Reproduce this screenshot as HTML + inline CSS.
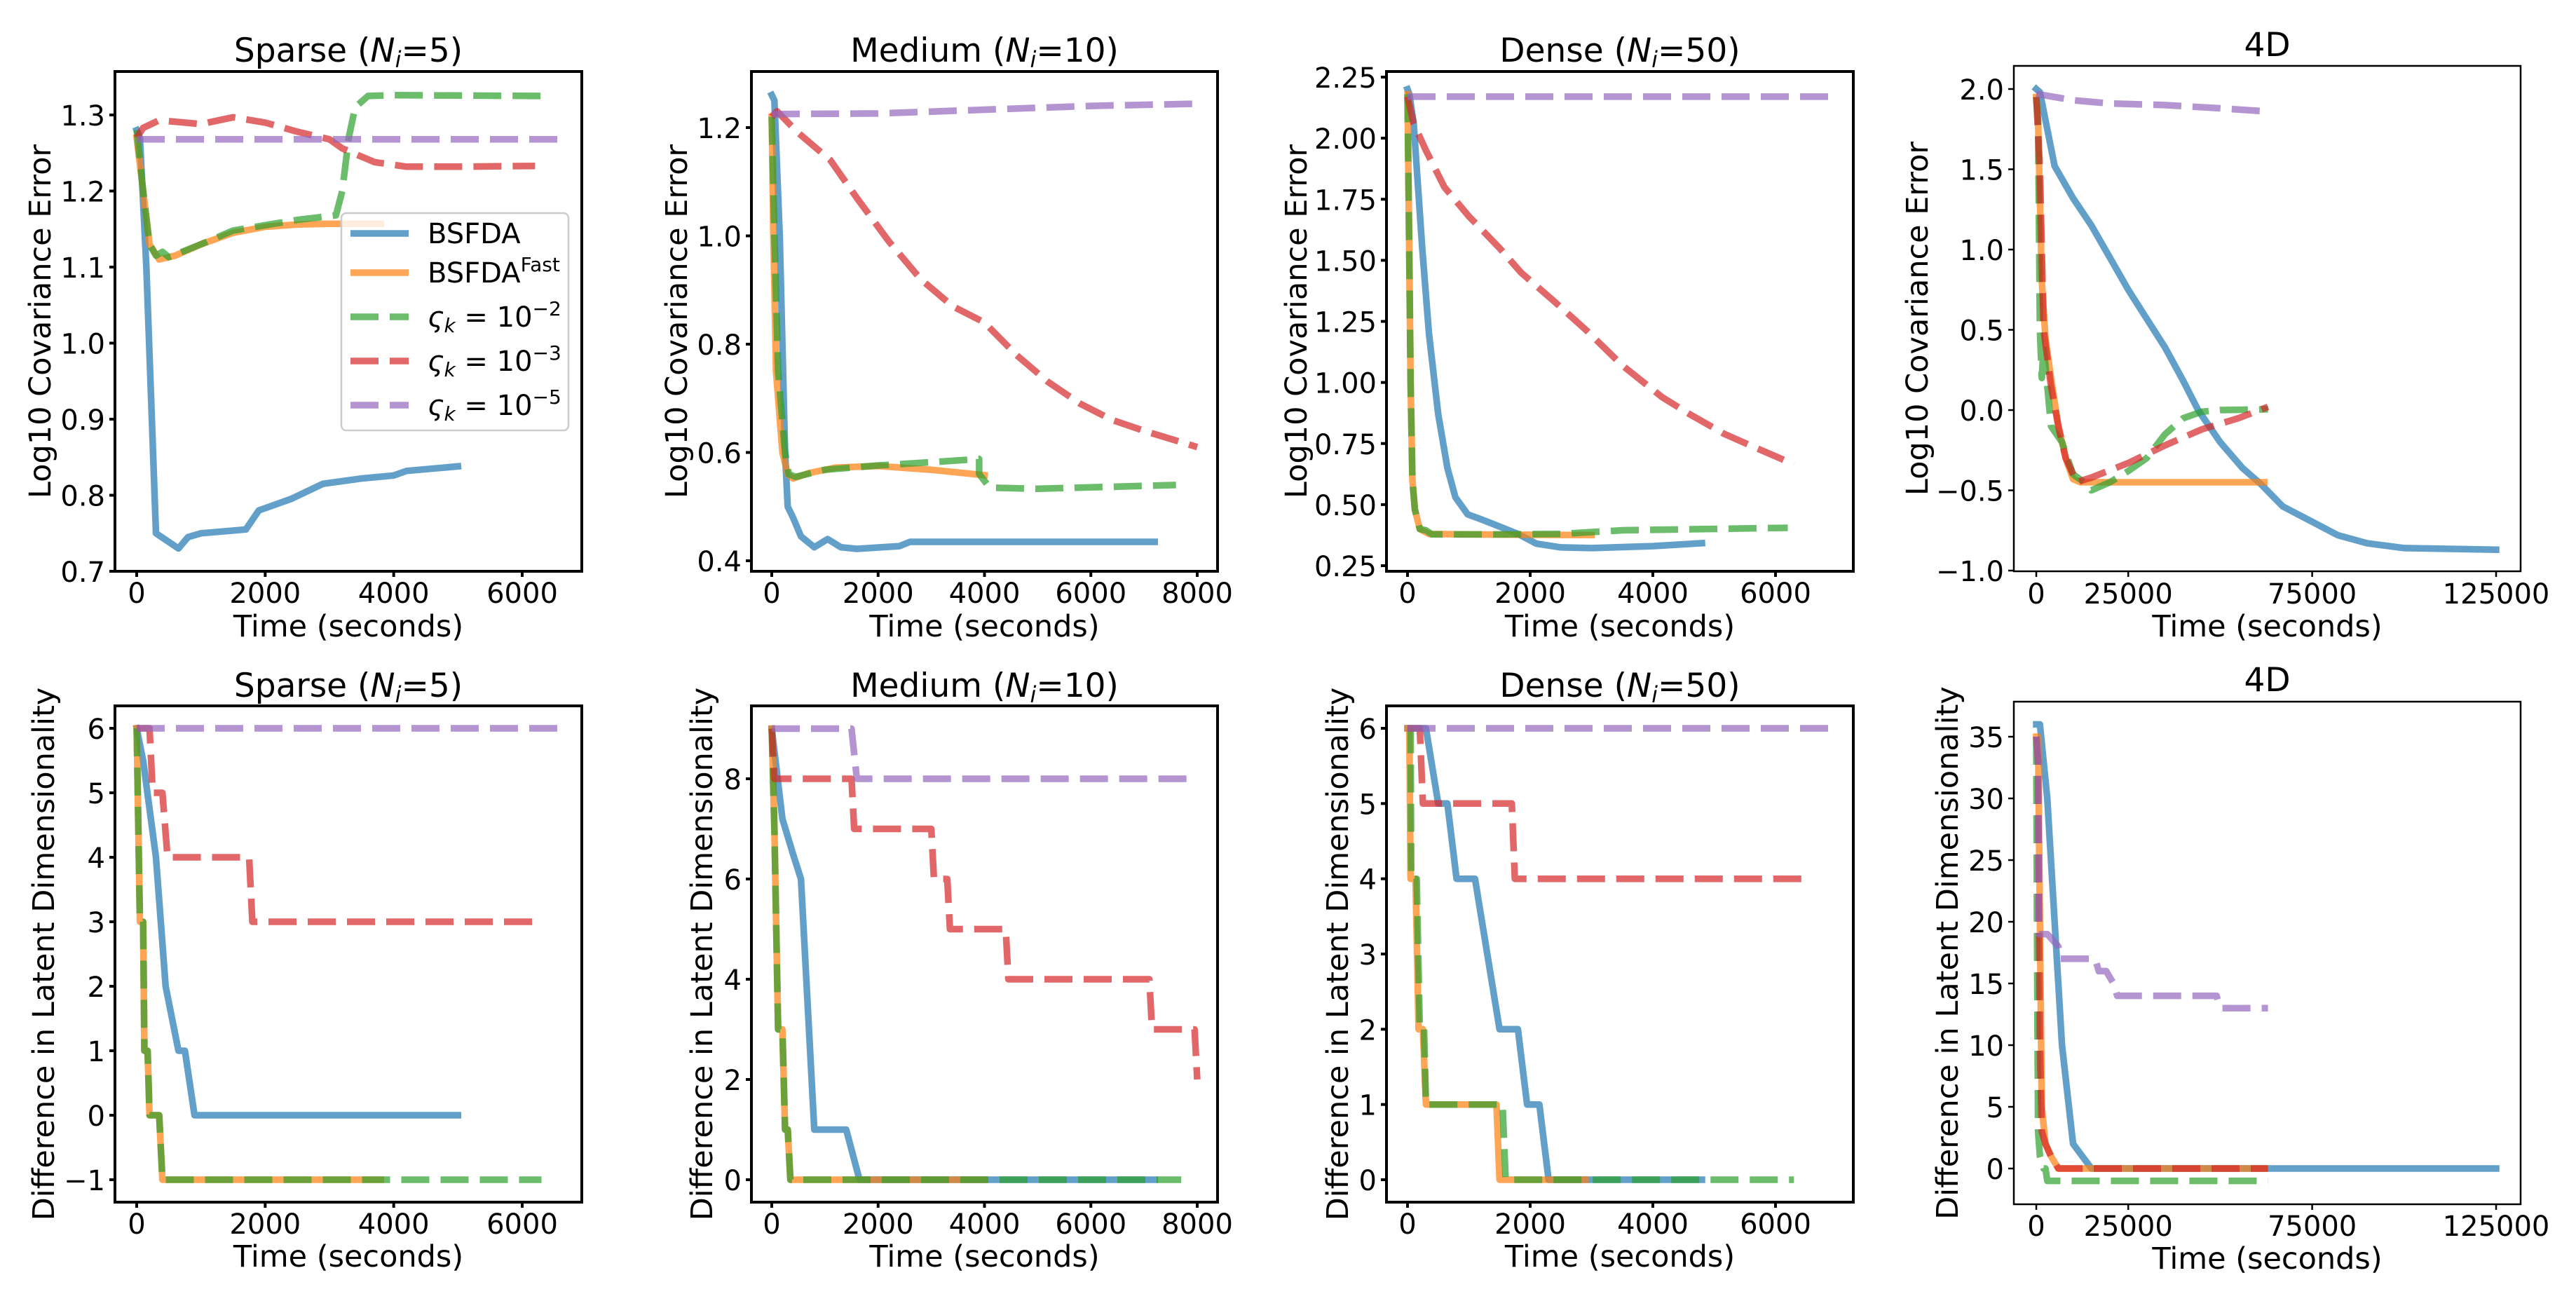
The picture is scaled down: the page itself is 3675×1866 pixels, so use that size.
<!DOCTYPE html>
<html><head><meta charset="utf-8"><style>
html,body{margin:0;padding:0;background:#fff;}
svg{display:block;font-family:"DejaVu Sans","Liberation Sans",sans-serif;}
</style></head><body>
<svg id="fig" width="3675" height="1866" viewBox="0 0 3675 1866" xmlns="http://www.w3.org/2000/svg">
<rect width="3675" height="1866" fill="#fff"/>
</svg>
<script>
// ---------- data ----------
const seriesNames = ["BSFDA","BSFDA Fast","zeta 1e-2","zeta 1e-3","zeta 1e-5"];
const sparseTopBlue=[[0,1.28],[50,1.27],[150,1.1],[300,0.75],[650,0.73],[800,0.745],[1000,0.75],[1700,0.755],[1900,0.78],[2400,0.795],[2900,0.815],[3500,0.822],[4000,0.826],[4200,0.832],[5000,0.838]];
const sparseTopOrange=[[0,1.27],[100,1.2],[200,1.13],[350,1.11],[600,1.115],[1000,1.13],[1500,1.145],[2000,1.153],[2500,1.156],[3000,1.157],[3800,1.157]];
const sparseTopGreen=[[0,1.28],[100,1.2],[200,1.13],[300,1.115],[400,1.12],[500,1.113],[1000,1.13],[1500,1.148],[2000,1.155],[2500,1.162],[3100,1.168],[3200,1.2],[3300,1.27],[3400,1.31],[3600,1.325],[4000,1.326],[6300,1.325]];
const sparseTopRed=[[0,1.27],[100,1.283],[350,1.293],[1000,1.288],[1500,1.297],[2000,1.29],[2500,1.278],[3000,1.268],[3200,1.256],[3700,1.238],[4200,1.232],[5000,1.232],[6200,1.233]];
const sparseTopPurple=[[0,1.268],[6600,1.268]];

const mediumTopBlue=[[0,1.26],[50,1.25],[150,1.0],[250,0.6],[300,0.5],[400,0.48],[550,0.445],[800,0.425],[1050,0.44],[1300,0.425],[1600,0.422],[2400,0.427],[2600,0.435],[7200,0.435]];
const mediumTopOrange=[[0,1.22],[30,1.0],[80,0.75],[200,0.6],[300,0.56],[400,0.552],[700,0.562],[1200,0.572],[2000,0.575],[3000,0.568],[4000,0.558]];
const mediumTopGreen=[[0,1.22],[50,1.0],[120,0.75],[250,0.6],[320,0.56],[450,0.555],[1000,0.568],[2000,0.576],[3000,0.582],[3900,0.588],[3900,0.56],[4100,0.535],[5000,0.533],[7600,0.54]];
const mediumTopRed=[[0,1.22],[100,1.23],[500,1.19],[1100,1.14],[1600,1.07],[2200,0.99],[2800,0.92],[3400,0.87],[4000,0.84],[4600,0.78],[5200,0.73],[5800,0.69],[6400,0.66],[7000,0.64],[7500,0.625],[8000,0.61]];
const mediumTopPurple=[[0,1.225],[2000,1.226],[4000,1.233],[6000,1.24],[8000,1.244]];

const denseTopBlue=[[0,2.2],[30,2.18],[100,2.06],[240,1.55],[350,1.2],[500,0.87],[650,0.65],[780,0.53],[980,0.46],[1200,0.44],[1500,0.41],[1800,0.38],[2100,0.34],[2500,0.325],[3000,0.322],[4000,0.33],[4800,0.342]];
const denseTopOrange=[[0,2.18],[30,1.5],[50,1.0],[80,0.6],[120,0.48],[200,0.4],[350,0.38],[1000,0.378],[3000,0.375]];
const denseTopGreen=[[0,2.18],[30,1.5],[50,1.0],[80,0.6],[120,0.48],[200,0.4],[300,0.395],[400,0.378],[1500,0.378],[2500,0.38],[3500,0.395],[6200,0.405]];
const denseTopRed=[[0,2.17],[100,2.06],[300,1.95],[600,1.8],[1000,1.68],[1500,1.55],[1850,1.45],[2400,1.33],[2930,1.21],[3500,1.07],[4150,0.94],[4600,0.87],[5160,0.79],[5700,0.73],[6300,0.665]];
const denseTopPurple=[[0,2.17],[7000,2.17]];

const fourDTopBlue=[[0,2.0],[1000,1.98],[5000,1.52],[10000,1.32],[15000,1.15],[20000,0.95],[25000,0.75],[30000,0.57],[35000,0.39],[40000,0.18],[44000,0.0],[50000,-0.2],[56000,-0.36],[61000,-0.46],[67000,-0.6],[74500,-0.69],[82000,-0.78],[90000,-0.83],[100000,-0.86],[125000,-0.87]];
const fourDTopOrange=[[0,1.95],[500,1.8],[1500,0.8],[2500,0.45],[4000,0.2],[6000,-0.1],[8000,-0.3],[10000,-0.43],[12000,-0.45],[62000,-0.45]];
const fourDTopGreen=[[0,1.95],[500,1.8],[1000,0.5],[1500,0.2],[2000,0.4],[4000,-0.1],[7000,-0.2],[10000,-0.4],[13000,-0.45],[15000,-0.5],[20000,-0.45],[25000,-0.38],[30000,-0.3],[35000,-0.15],[40000,-0.05],[45000,-0.01],[50000,0.0],[63000,0.005]];
const fourDTopRed=[[0,1.95],[1000,1.5],[2000,0.5],[4000,0.15],[6000,-0.1],[8000,-0.3],[11000,-0.45],[15000,-0.42],[25000,-0.33],[35000,-0.22],[45000,-0.12],[55000,-0.05],[63000,0.02]];
const fourDTopPurple=[[0,1.97],[10000,1.93],[20000,1.91],[35000,1.9],[50000,1.88],[63000,1.86]];

const sparseBotBlue=[[0,6],[100,5.5],[300,4],[450,2],[650,1],[750,1],[900,0],[5000,0]];
const sparseBotOrange=[[0,6],[50,3],[100,3],[120,1],[170,1],[200,0],[350,0],[400,-1],[3800,-1]];
const sparseBotGreen=[[0,6],[50,3],[100,3],[120,1],[170,1],[200,0],[350,0],[400,-1],[6300,-1]];
const sparseBotRed=[[0,6],[200,6],[250,5],[400,5],[480,4],[1750,4],[1800,3],[6200,3]];
const sparseBotPurple=[[0,6],[6600,6]];

const mediumBotBlue=[[0,9],[200,7.2],[400,6.5],[550,6],[800,1],[1400,1],[1650,0],[7200,0]];
const mediumBotOrange=[[0,9],[50,7],[120,3],[200,3],[250,1],[300,1],[350,0],[4000,0]];
const mediumBotGreen=[[0,9],[50,7],[120,3],[200,3],[250,1],[300,1],[350,0],[7700,0]];
const mediumBotRed=[[0,9],[50,8],[1500,8],[1550,7],[3000,7],[3050,6],[3300,6],[3350,5],[4400,5],[4450,4],[7100,4],[7150,3],[7950,3],[8000,2]];
const mediumBotPurple=[[0,9],[1500,9],[1600,8],[7800,8]];

const denseBotBlue=[[0,6],[300,6],[500,5],[650,5],[800,4],[1100,4],[1300,3],[1500,2],[1800,2],[1950,1],[2150,1],[2300,0],[4800,0]];
const denseBotOrange=[[0,6],[30,6],[50,4],[130,4],[180,2],[250,2],[300,1],[1450,1],[1500,0],[2900,0]];
const denseBotGreen=[[0,6],[50,6],[60,4],[150,4],[200,2],[270,2],[300,1],[1550,1],[1600,0],[6300,0]];
const denseBotRed=[[0,6],[200,6],[250,5],[1700,5],[1750,4],[6500,4]];
const denseBotPurple=[[0,6],[7000,6]];

const fourDBotBlue=[[0,36],[1000,36],[3000,30],[5000,20],[7000,10],[10000,2],[15000,0],[125000,0]];
const fourDBotOrange=[[0,35],[500,35],[1000,20],[1500,5],[2500,2],[4000,1],[6000,0],[62000,0]];
const fourDBotGreen=[[0,35],[200,20],[500,3],[1000,1],[2000,0],[2500,0],[3000,-1],[63000,-1]];
const fourDBotRed=[[0,35],[500,33],[1000,10],[1500,3],[2500,2],[4000,1],[6000,0],[63000,0]];
const fourDBotPurple=[[0,35],[500,33],[700,19],[3000,19],[6000,18],[6500,17],[16000,17],[17000,16],[19000,16],[21000,15],[22000,14],[49000,14],[50000,13],[63000,13]];

const xTicks6000=[0,2000,4000,6000];
const xTicks8000=[0,2000,4000,6000,8000];
const xTicks4D=[0,25000,75000,125000];
const yTicksSparseTop=[0.7,0.8,0.9,1.0,1.1,1.2,1.3];
const yTicksMediumTop=[0.4,0.6,0.8,1.0,1.2];
const yTicksDenseTop=[0.25,0.5,0.75,1.0,1.25,1.5,1.75,2.0,2.25];
const yTicks4DTop=[-1.0,-0.5,0.0,0.5,1.0,1.5,2.0];
const yTicksSparseBot=[-1,0,1,2,3,4,5,6];
const yTicksMediumBot=[0,2,4,6,8];
const yTicksDenseBot=[0,1,2,3,4,5,6];
const yTicks4DBot=[0,5,10,15,20,25,30,35];

// ---------- drawing ----------
const NS="http://www.w3.org/2000/svg";
const svg=document.getElementById('fig');
const colors=["#1f77b4","#ff7f0e","#2ca02c","#d62728","#9467bd"];
const dashed=[false,false,true,true,true];
function mk(tag,attrs,parent){const e=document.createElementNS(NS,tag);for(const k in attrs)e.setAttribute(k,attrs[k]);(parent||svg).appendChild(e);return e;}

const panels=[
 {name:"sparse-top",box:[164,830,102,815],xr:[0,195,6000,745],yr:[0.7,815,1.3,164],xt:xTicks6000,yt:yTicksSparseTop,dec:1,title:["Sparse (","5)"],titleY:88,tickY:860,labY:908,ylab:"Log10 Covariance Error",ylabX:72,series:[sparseTopBlue,sparseTopOrange,sparseTopGreen,sparseTopRed,sparseTopPurple],sw:4},
 {name:"medium-top",box:[1072,1737,102,815],xr:[0,1101,8000,1708],yr:[0.4,800,1.2,182],xt:xTicks8000,yt:yTicksMediumTop,dec:1,title:["Medium (","10)"],titleY:88,tickY:860,labY:908,ylab:"Log10 Covariance Error",ylabX:980,series:[mediumTopBlue,mediumTopOrange,mediumTopGreen,mediumTopRed,mediumTopPurple],sw:4},
 {name:"dense-top",box:[1978,2644,102,815],xr:[0,2008,6000,2533],yr:[0.25,807,2.25,110],xt:xTicks6000,yt:yTicksDenseTop,dec:2,title:["Dense (","50)"],titleY:88,tickY:860,labY:908,ylab:"Log10 Covariance Error",ylabX:1864,series:[denseTopBlue,denseTopOrange,denseTopGreen,denseTopRed,denseTopPurple],sw:4},
 {name:"4d-top",box:[2873,3596,94,815],xr:[0,2905,125000,3561],yr:[-1.0,814,2.0,127],xt:xTicks4D,yt:yTicks4DTop,dec:1,title:null,titleY:80,tickY:861,labY:908,ylab:"Log10 Covariance Error",ylabX:2750,series:[fourDTopBlue,fourDTopOrange,fourDTopGreen,fourDTopRed,fourDTopPurple],sw:2.5},
 {name:"sparse-bottom",box:[164,830,1007,1715],xr:[0,195,6000,745],yr:[-1,1683,6,1039],xt:xTicks6000,yt:yTicksSparseBot,dec:0,title:["Sparse (","5)"],titleY:994,tickY:1760,labY:1807,ylab:"Difference in Latent Dimensionality",ylabX:77,series:[sparseBotBlue,sparseBotOrange,sparseBotGreen,sparseBotRed,sparseBotPurple],sw:4},
 {name:"medium-bottom",box:[1072,1737,1007,1715],xr:[0,1101,8000,1708],yr:[0,1683,8,1111],xt:xTicks8000,yt:yTicksMediumBot,dec:0,title:["Medium (","10)"],titleY:994,tickY:1760,labY:1807,ylab:"Difference in Latent Dimensionality",ylabX:1016,series:[mediumBotBlue,mediumBotOrange,mediumBotGreen,mediumBotRed,mediumBotPurple],sw:4},
 {name:"dense-bottom",box:[1978,2644,1007,1715],xr:[0,2008,6000,2533],yr:[0,1683,6,1039],xt:xTicks6000,yt:yTicksDenseBot,dec:0,title:["Dense (","50)"],titleY:994,tickY:1760,labY:1807,ylab:"Difference in Latent Dimensionality",ylabX:1923,series:[denseBotBlue,denseBotOrange,denseBotGreen,denseBotRed,denseBotPurple],sw:4},
 {name:"4d-bottom",box:[2873,3596,1001,1718],xr:[0,2905,125000,3561],yr:[0,1667,35,1051],xt:xTicks4D,yt:yTicks4DBot,dec:0,title:null,titleY:986,tickY:1763,labY:1810,ylab:"Difference in Latent Dimensionality",ylabX:2793,series:[fourDBotBlue,fourDBotOrange,fourDBotGreen,fourDBotRed,fourDBotPurple],sw:2.5}
];

function fmt(v,dec){let s=v.toFixed(dec);return s.replace('-','\u2212');}

panels.forEach((p,pi)=>{
  const g=mk('g',{});
  
  
  const [l,r,t,b]=p.box;
  const X=v=>p.xr[1]+(v-p.xr[0])*(p.xr[3]-p.xr[1])/(p.xr[2]-p.xr[0]);
  const Y=v=>p.yr[1]+(v-p.yr[0])*(p.yr[3]-p.yr[1])/(p.yr[2]-p.yr[0]);
  const cid='clip'+pi;
  const cp=mk('clipPath',{id:cid},g);mk('rect',{x:l,y:t,width:r-l,height:b-t},cp);
  const lg=mk('g',{'clip-path':'url(#'+cid+')'},g);
  p.series.forEach((s,si)=>{
    const d=s.map((pt,i)=>(i?'L':'M')+X(pt[0]).toFixed(1)+','+Y(pt[1]).toFixed(1)).join(' ');
    const path=mk('path',{d:d,fill:'none',stroke:colors[si],'stroke-opacity':0.7,'stroke-width':9.5,'stroke-linejoin':'round','stroke-linecap':dashed[si]?'butt':'square'},lg);
    if(dashed[si])path.setAttribute('stroke-dasharray','40 16');
    
    
  });
  const frame=mk('rect',{x:l,y:t,width:r-l,height:b-t,fill:'none',stroke:'#000','stroke-width':p.sw},g);
  
  
  p.xt.forEach(v=>{
    const x=X(v);
    mk('line',{x1:x,x2:x,y1:b,y2:b+8,stroke:'#000','stroke-width':p.sw},g);
    const tx=mk('text',{x:x,y:p.tickY,'font-size':40,'text-anchor':'middle'},g);
    tx.textContent=String(v);
    
    
  });
  p.yt.forEach(v=>{
    const y=Y(v);
    mk('line',{x1:l-8,x2:l,y1:y,y2:y,stroke:'#000','stroke-width':p.sw},g);
    const tx=mk('text',{x:l-14,y:y+15,'font-size':40,'text-anchor':'end'},g);
    tx.textContent=fmt(v,p.dec);
    
    
  });
  const xl=mk('text',{x:(l+r)/2,y:p.labY,'font-size':43,'text-anchor':'middle'},g);
  xl.textContent='Time (seconds)';
  
  
  const cy=(t+b)/2;
  const yl=mk('text',{x:p.ylabX,y:cy,'font-size':43,'text-anchor':'middle',transform:'rotate(-90 '+p.ylabX+' '+cy+')'},g);
  yl.textContent=p.ylab;
  
  
  const tt=mk('text',{x:(l+r)/2,y:p.titleY,'font-size':47,'text-anchor':'middle'},g);
  
  
  if(p.title){
    tt.appendChild(document.createTextNode(p.title[0]));
    const n=mk('tspan',{'font-style':'italic'},tt);n.textContent='N';
    const i=mk('tspan',{'font-style':'italic','font-size':32,dy:8},tt);i.textContent='i';
    const rest=mk('tspan',{dy:-8},tt);rest.textContent='='+p.title[1];
  } else tt.textContent='4D';
});

// legend (top-left panel)
const leg=mk('g',{});


mk('rect',{x:487,y:304,width:324,height:310,rx:7,fill:'#fff','fill-opacity':0.8,stroke:'#cccccc','stroke-width':2.5},leg);
const legRows=[333,389,452,515,578];
const legLabels=[["BSFDA",""],["BSFDA","Fast"],["","\u22122"],["","\u22123"],["","\u22125"]];
legRows.forEach((y,i)=>{
  const ln=mk('line',{x1:500,x2:583,y1:y,y2:y,stroke:colors[i],'stroke-opacity':0.7,'stroke-width':9.5},leg);
  if(dashed[i])ln.setAttribute('stroke-dasharray','40 16');
  const tx=mk('text',{x:610,y:y+14,'font-size':40},leg);
  
  
  if(i<2){
    tx.appendChild(document.createTextNode(legLabels[i][0]));
    if(legLabels[i][1]){const s=mk('tspan',{'font-size':28,dy:-16},tx);s.textContent=legLabels[i][1];}
  } else {
    const z=mk('tspan',{'font-style':'italic'},tx);z.textContent='\u03c2';
    const k=mk('tspan',{'font-style':'italic','font-size':28,dy:8},tx);k.textContent='k';
    const e=mk('tspan',{dy:-8},tx);e.textContent=' = 10';
    const sup=mk('tspan',{'font-size':28,dy:-16},tx);sup.textContent=legLabels[i][1];
  }
});
</script>
</body></html>
